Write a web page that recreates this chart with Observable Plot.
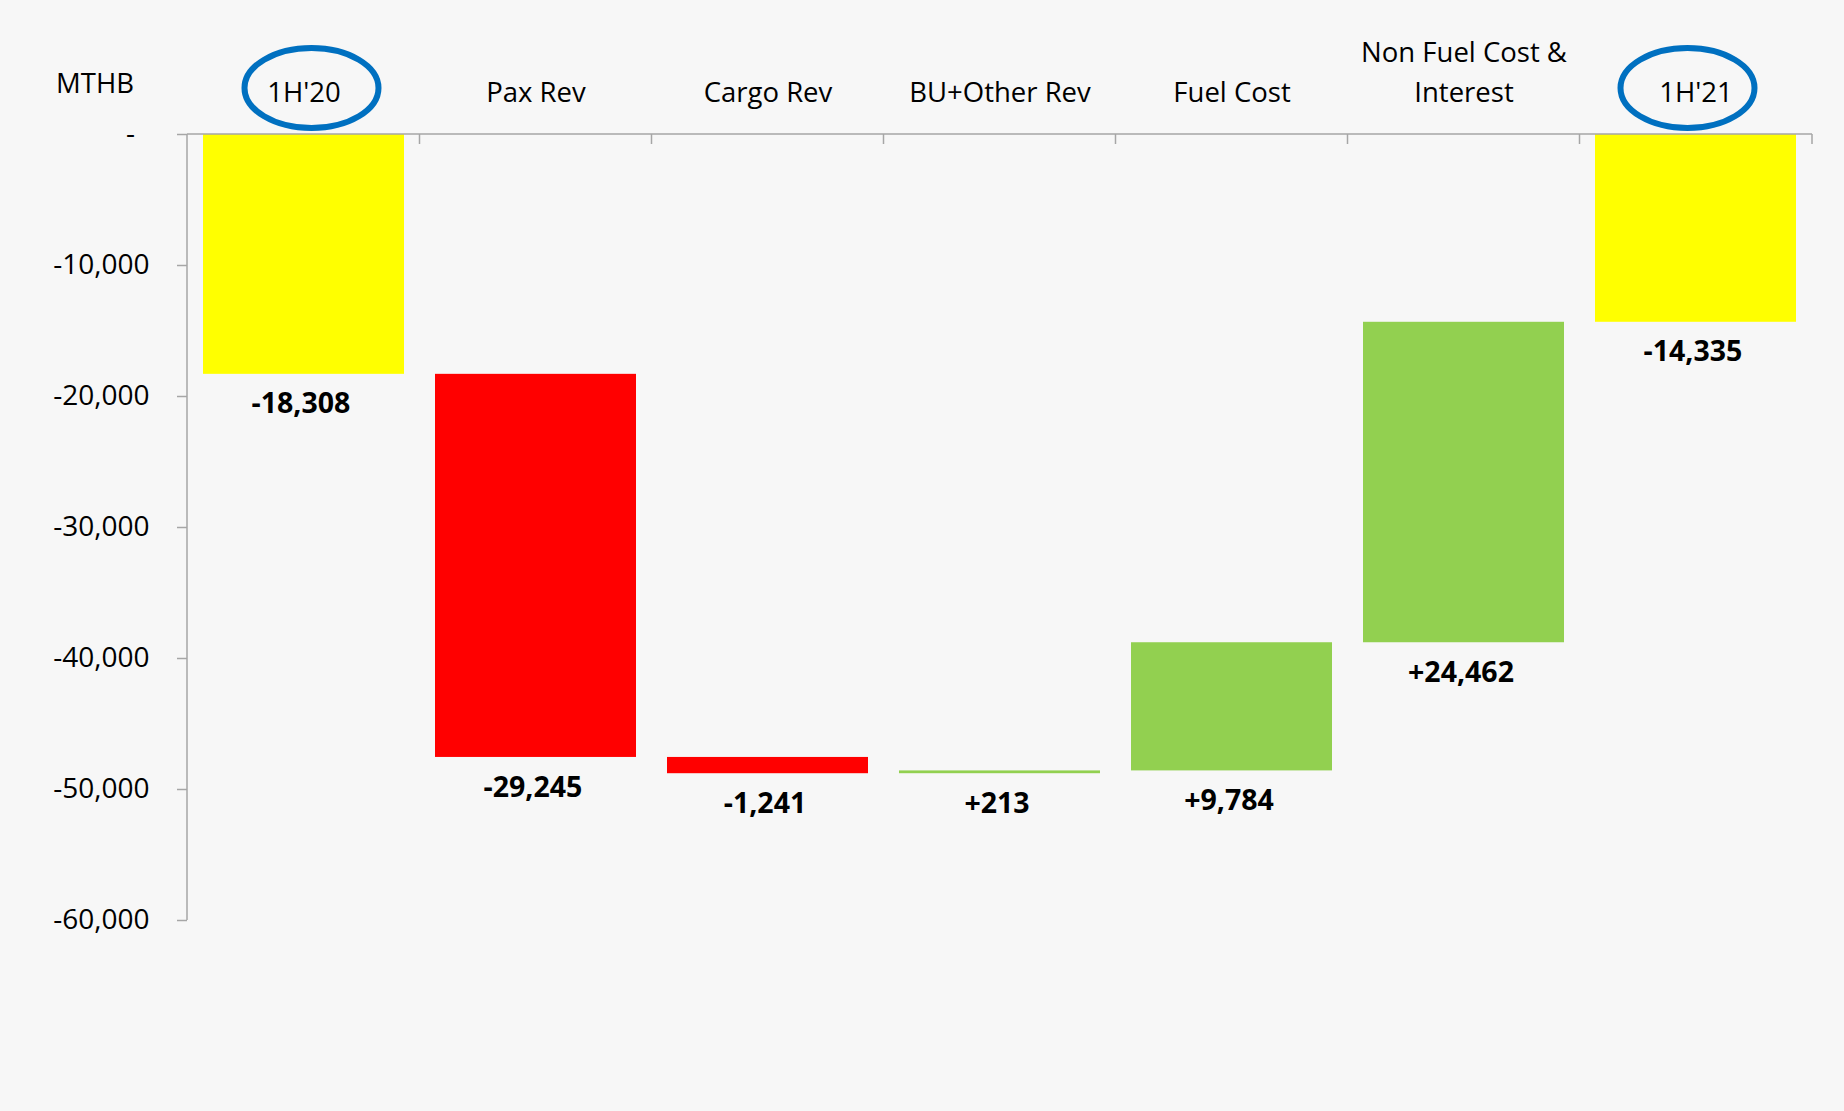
<!DOCTYPE html>
<html><head><meta charset="utf-8">
<script src="https://cdn.jsdelivr.net/npm/d3@7"></script>
<script src="https://cdn.jsdelivr.net/npm/@observablehq/plot@0.6"></script>
<style>
html,body{margin:0;padding:0;background:#f7f7f7;}
#chart{width:1844px;height:1111px;}
</style></head><body><div id="chart"></div>
<script>
const categories = ["1H'20","Pax Rev","Cargo Rev","BU+Other Rev","Fuel Cost","Non Fuel Cost &\nInterest","1H'21"];
const changes = [-18308,-29245,-1241,213,9784,24462,-14335];
const kinds = ["total","step","step","step","step","step","total"];
const valueLabels = ["-18,308","-29,245","-1,241","+213","+9,784","+24,462","-14,335"];
const yTicks = [0,-10000,-20000,-30000,-40000,-50000,-60000];
const unitLabel = "MTHB";
const circled = ["1H'20","1H'21"];

let running = 0;
const rows = categories.map((c,i)=>{
  let y1,y2;
  if (kinds[i]==="total"){ y1=0; y2=changes[i]; running=changes[i]; }
  else { y1=running; y2=running+changes[i]; running=y2; }
  const fill = kinds[i]==="total" ? "#FFFF00" : changes[i]<0 ? "#FF0000" : "#92D050";
  return {category:c, y1, y2, low: Math.min(y1,y2), label: valueLabels[i], fill};
});

const axisGray = "#a6a6a6";
const font = "'Open Sans', sans-serif";

const plot = Plot.plot({
  width:1844, height:1111,
  marginLeft:187, marginRight:32, marginTop:134, marginBottom:191,
  style:{background:"#f7f7f7", fontFamily:font, color:"#000", overflow:"visible"},
  x:{domain:categories, paddingInner:0.135, paddingOuter:0.0675, label:null},
  y:{domain:[-60000,0], label:null},
  marks:[
    Plot.barY(rows,{x:"category", y1:"y1", y2:"y2", fill:"fill"}),
    Plot.axisY({ticks:yTicks, tickSize:10, tickPadding:28, stroke:axisGray, strokeWidth:1.5, fontSize:28, label:null,
      tickFormat: d => d===0 ? "-\u00a0\u00a0" : "-"+d3.format(",")(-d)}),
    Plot.axisX({anchor:"top", tickSize:0, tickPadding:33, fontSize:27.5, lineHeight:1.43, label:null}),
    Plot.text(rows,{x:"category", y:"low", text:"label", dy:30, dx:-3, fontSize:28.5, fontWeight:"bold", fill:"#000"})
  ]
});
document.getElementById("chart").appendChild(plot);

const xs = plot.scale("x"), ys = plot.scale("y");
const svg = d3.select(plot);
const y0 = ys.apply(0), yMin = ys.apply(-60000);
const left = xs.range[0], right = xs.range[1];
const g = svg.append("g").attr("stroke", axisGray).attr("stroke-width",1.5).attr("fill","none");
g.append("line").attr("x1",left).attr("x2",left).attr("y1",y0).attr("y2",yMin);
g.append("line").attr("x1",left).attr("x2",right).attr("y1",y0).attr("y2",y0);
const gap = xs.step - xs.bandwidth;
categories.forEach((c,i)=>{
  if (i===0) return;
  const bx = xs.apply(c) - gap/2;
  g.append("line").attr("x1",bx).attr("x2",bx).attr("y1",y0).attr("y2",y0+10);
});
g.append("line").attr("x1",right).attr("x2",right).attr("y1",y0).attr("y2",y0+10);

circled.forEach((c,i)=>{
  const cx = xs.apply(c) + xs.bandwidth/2 + (i===0 ? 8 : -8);
  svg.append("ellipse").attr("cx",cx).attr("cy",y0-46).attr("rx",67).attr("ry",40)
    .attr("fill","none").attr("stroke","#0070C0").attr("stroke-width",6);
});

svg.append("text").attr("x",left-92).attr("y",y0-41).attr("text-anchor","middle")
  .attr("font-size",27.5).attr("font-family",font).attr("fill","#000").text(unitLabel);
</script></body></html>
